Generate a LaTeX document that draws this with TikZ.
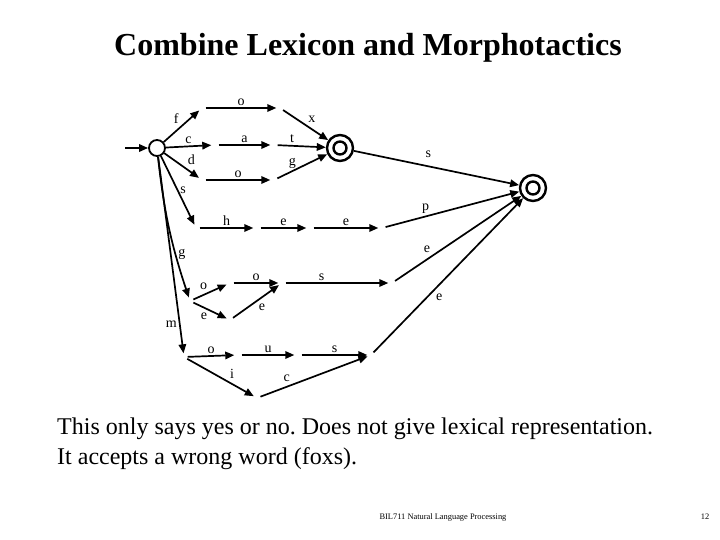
\documentclass[tikz,border=0pt]{standalone}
\usepackage{fontspec}
\setmainfont{Liberation Serif}
\usetikzlibrary{arrows.meta}
\tikzset{
  startst/.style={circle, draw, line width=1.8pt, minimum size=16pt, inner sep=0pt},
  finalst/.style={circle, draw, line width=2.4pt, minimum size=26pt, inner sep=0pt,
                  path picture={\draw[line width=2.4pt] (path picture bounding box.center) circle (6.5pt);}},
  hid/.style={circle, minimum size=7pt, inner sep=0pt},
  arr/.style={-{Triangle[length=9pt, width=7.5pt]}, line width=1.7pt},
  lbl/.style={font=\fontsize{14}{14}\selectfont, inner sep=2pt},
  titlebox/.style={font=\fontsize{32}{34}\selectfont\bfseries},
  notebox/.style={font=\fontsize{24}{30}\selectfont, align=left, anchor=north west, inner sep=0pt},
  footbox/.style={font=\fontsize{8.4}{9}\selectfont}}

\begin{document}
\frenchspacing
\begin{tikzpicture}[x=1pt, y=-1pt]
  \useasboundingbox (0,0) rectangle (720,540);
  \node[titlebox] (ttl) at (368,48) {Combine Lexicon and Morphotactics};

  % states
  \coordinate (in) at (125,148);
  \node[startst] (S) at (157,148) {};
  \node[finalst] (F1) at (340,148) {};
  \node[finalst] (F2) at (533,188) {};
  % fox / cat / dog
  \node[hid] (q1) at (202,108) {};
  \node[hid] (q2) at (280,108) {};
  \node[hid] (q3) at (215,145) {};
  \node[hid] (q4) at (274,145) {};
  \node[hid] (q5) at (202,180) {};
  \node[hid] (q6) at (274,180) {};
  % sheep
  \node[hid] (r1) at (196,228) {};
  \node[hid] (r2) at (257,228) {};
  \node[hid] (r3) at (310,228) {};
  \node[hid] (r4) at (382,228) {};
  % goose / geese
  \node[hid] (g1) at (190,301) {};
  \node[hid] (g2) at (230,283) {};
  \node[hid] (g3) at (230,320) {};
  \node[hid] (g4) at (282,283) {};
  \node[hid] (g5) at (392,283) {};
  % mouse / mice
  \node[hid] (m1) at (184,357) {};
  \node[hid] (m2) at (238,355) {};
  \node[hid] (m3) at (298,355) {};
  \node[hid] (m4) at (371,355) {};
  \node[hid] (m5) at (257,398) {};

  \draw[arr] (in) -- (S);
  \draw[arr] (S) -- node[lbl, above left] {f} (q1);
  \draw[arr] (q1) -- node[lbl, above] {o} (q2);
  \draw[arr] (q2) -- node[lbl, above right] {x} (F1);
  \draw[arr] (S) -- node[lbl, above] {c} (q3);
  \draw[arr] (q3) -- node[lbl, above] {a} (q4);
  \draw[arr] (q4) -- node[lbl, above, pos=0.3] {t} (F1);
  \draw[arr] (S) -- node[lbl, above right, pos=0.6] {d} (q5);
  \draw[arr] (q5) -- node[lbl, above] {o} (q6);
  \draw[arr] (q6) -- node[lbl, above, pos=0.3] {g} (F1);
  \draw[arr] (F1) -- node[lbl, above=6pt, pos=0.45] {s} (F2);

  \draw[arr] (S) -- node[lbl, right, pos=0.5] {s} (r1);
  \draw[arr] (r1) -- node[lbl, above] {h} (r2);
  \draw[arr] (r2) -- node[lbl, above] {e} (r3);
  \draw[arr] (r3) -- node[lbl, above] {e} (r4);
  \draw[arr] (r4) -- node[lbl, above, pos=0.3] {p} (F2);

  \draw[arr] (S) to[bend right=6] node[lbl, right, pos=0.7] {g} (g1);
  \draw[arr] (g1) -- node[lbl, above left] {o} (g2);
  \draw[arr] (g1) -- node[lbl, below left] {e} (g3);
  \draw[arr] (g2) -- node[lbl, above] {o} (g4);
  \draw[arr] (g3) -- node[lbl, below right] {e} (g4);
  \draw[arr] (g4) -- node[lbl, above, pos=0.35] {s} (g5);
  \draw[arr] (g5) -- node[lbl, above left, pos=0.3] {e} (F2);

  \draw[arr] (S) -- node[lbl, left, pos=0.85] {m} (m1);
  \draw[arr] (m1) -- node[lbl, above] {o} (m2);
  \draw[arr] (m2) -- node[lbl, above] {u} (m3);
  \draw[arr] (m3) -- node[lbl, above] {s} (m4);
  \draw[arr] (m4) -- node[lbl, below right, pos=0.4] {e} (F2);
  \draw[arr] (m1) -- node[lbl, above right, pos=0.6] {i} (m5);
  \draw[arr] (m5) -- node[lbl, above left, pos=0.3] {c} (m4);

  \node[notebox] (note) at (57,418) {This only says yes or no. Does not give lexical representation.\\
    It accepts a wrong word (foxs).};
  \node[footbox] (foot) at (443,517) {BIL711 Natural Language Processing};
  \node[footbox] (pg) at (705,517) {12};
\end{tikzpicture}
\end{document}
